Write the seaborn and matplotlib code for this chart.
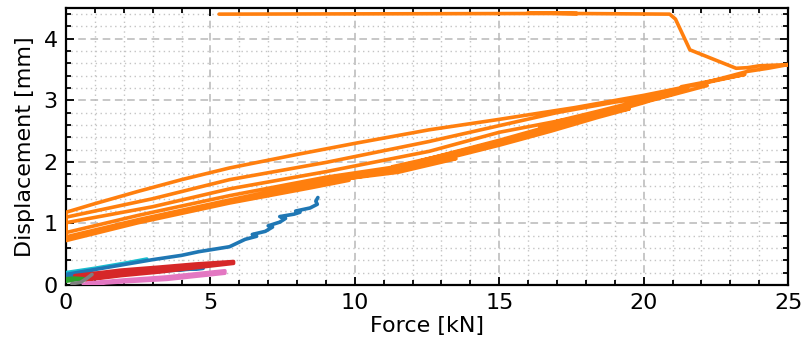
import matplotlib
matplotlib.use("Agg")
import matplotlib.pyplot as plt
from matplotlib.ticker import MultipleLocator
import pandas as pd
import seaborn as sns

# Force [kN] / displacement [mm] records of each specimen
orange_force = [
    # cycle 1
    0, 2.5, 5.66, 8.5, 9.8, 9.6, 11.5, 13.5, 13.3, 15, 16.8, 18.4, 19.5,
    17, 15, 12.57, 9, 5.66, 3, 0,
    # cycle 2
    0, 2.5, 5.66, 8.5, 11.5, 11.3, 13, 15, 16.6, 16.4, 18.4, 19.8, 21,
    19, 17, 12.57, 9, 5.66, 3, 0,
    # cycle 3
    0, 2.5, 5.66, 9, 12.57, 12.3, 15, 17.2, 17.0, 18.4, 20, 21.5, 21.3, 23.5,
    22, 20, 17.6, 15, 12.57, 10, 8, 5.66, 4, 2.5, 1, 0,
    # cycle 4 and failure
    0, 2.5, 5.66, 8.5, 11.5, 14, 13.8, 15, 18.4, 20, 20.2, 22.2, 22.0, 23.6, 24.3, 25,
    24, 23.6, 23.2, 21.6, 21.3, 21.1, 20.9, 17.7, 16.0, 17.7, 16.0, 5.3,
]
orange_disp = [
    0.72, 1.01, 1.33, 1.58, 1.70, 1.72, 1.83, 2.05, 2.07, 2.27, 2.50, 2.72, 2.86,
    2.66, 2.48, 2.17, 1.84, 1.56, 1.27, 1.01,
    0.78, 1.06, 1.38, 1.66, 1.90, 1.92, 2.10, 2.33, 2.54, 2.56, 2.79, 2.95, 3.10,
    2.97, 2.80, 2.33, 1.99, 1.71, 1.40, 1.10,
    0.85, 1.13, 1.45, 1.75, 2.00, 2.02, 2.35, 2.64, 2.66, 2.82, 3.01, 3.20, 3.22, 3.42,
    3.27, 3.08, 2.88, 2.69, 2.52, 2.30, 2.12, 1.90, 1.71, 1.52, 1.32, 1.18,
    0.75, 1.04, 1.35, 1.63, 1.86, 2.17, 2.19, 2.30, 2.75, 2.96, 2.99, 3.24, 3.27, 3.47, 3.52, 3.58,
    3.56, 3.53, 3.52, 3.82, 4.12, 4.32, 4.40, 4.41, 4.42, 4.41, 4.41, 4.40,
]

blue_force = [0, 2, 4.75, 2, 0, 1, 2, 3, 4, 4.6, 5.0, 5.66, 6.2, 6.6, 6.45,
              6.9, 7.15, 7.0, 7.4, 7.6, 7.4, 7.9, 8.1, 7.95, 8.45, 8.7, 8.65, 8.72]
blue_disp = [0.13, 0.18, 0.27, 0.20, 0.17, 0.25, 0.33, 0.41, 0.48, 0.54, 0.57, 0.62, 0.74, 0.79, 0.82,
             0.87, 0.94, 0.96, 1.02, 1.08, 1.11, 1.15, 1.18, 1.20, 1.25, 1.31, 1.36, 1.42]

cyan_force = [0, 1, 2, 2.8]
cyan_disp = [0.20, 0.27, 0.35, 0.42]

red_force = [0.7, 1.9, 3.25, 4.5, 5.8, 5.8, 4.5, 3.25, 1.9, 0.3, 0.5, 1.9, 3.25, 4.5, 5.7]
red_disp = [0.08, 0.15, 0.21, 0.28, 0.35, 0.38, 0.34, 0.29, 0.24, 0.15, 0.12, 0.19, 0.25, 0.31, 0.36]

pink_force = [0.6, 2.0, 3.5, 5.5, 5.5, 3.5, 2.0, 0.8, 0.7, 2.0, 3.5, 5.4]
pink_disp = [0.01, 0.05, 0.09, 0.19, 0.23, 0.13, 0.08, 0.03, 0.02, 0.065, 0.11, 0.21]

green_force = [0, 0.3, 0.6, 0.3, 0]
green_disp = [0.06, 0.08, 0.10, 0.11, 0.10]

gray_force = [0.2, 0.5, 0.7, 0.9]
gray_disp = [0.02, 0.04, 0.10, 0.17]

series = [
    (cyan_force, cyan_disp, "#17becf"),
    (blue_force, blue_disp, "#1f77b4"),
    (red_force, red_disp, "#d62728"),
    (pink_force, pink_disp, "#e377c2"),
    (green_force, green_disp, "#2ca02c"),
    (gray_force, gray_disp, "#7f7f7f"),
    (orange_force, orange_disp, "#ff7f0e"),
]

sns.set_style("white")
plt.rcParams["font.family"] = ["DejaVu Sans"]
plt.rcParams["text.color"] = "black"
plt.rcParams["axes.labelcolor"] = "black"

fig = plt.figure(figsize=(8.05, 3.47), dpi=100)
ax = fig.add_axes([0.082, 0.179, 0.897, 0.798])

for fx, dy, col in series:
    df = pd.DataFrame({"force": fx, "disp": dy})
    sns.lineplot(data=df, x="force", y="disp", sort=False, estimator=None,
                 color=col, lw=2.6, ax=ax, zorder=3)

ax.set_xlim(0, 25)
ax.set_ylim(0, 4.5)
ax.xaxis.set_major_locator(MultipleLocator(5))
ax.xaxis.set_minor_locator(MultipleLocator(1))
ax.yaxis.set_major_locator(MultipleLocator(1))
ax.yaxis.set_minor_locator(MultipleLocator(0.2))

ax.grid(which="major", color="#b8b8b8", ls=(0, (5, 3)), lw=1.1, zorder=0)
ax.grid(which="minor", color="#c4c4c4", ls=(0, (1, 2.5)), lw=1.0, zorder=0)
ax.set_axisbelow(True)

ax.tick_params(which="both", direction="in", top=True, right=True,
               bottom=True, left=True, colors="black", labelcolor="black", width=1.3)
ax.tick_params(which="major", length=6, labelsize=16, pad=6)
ax.tick_params(which="minor", length=3.5)
for sp in ax.spines.values():
    sp.set_color("black")
    sp.set_linewidth(1.6)

ax.set_xlabel("Force [kN]", fontsize=16, labelpad=2, color="black")
ax.set_ylabel("Displacement [mm]", fontsize=16, labelpad=6, color="black")

fig.savefig("out.png", dpi=100)
